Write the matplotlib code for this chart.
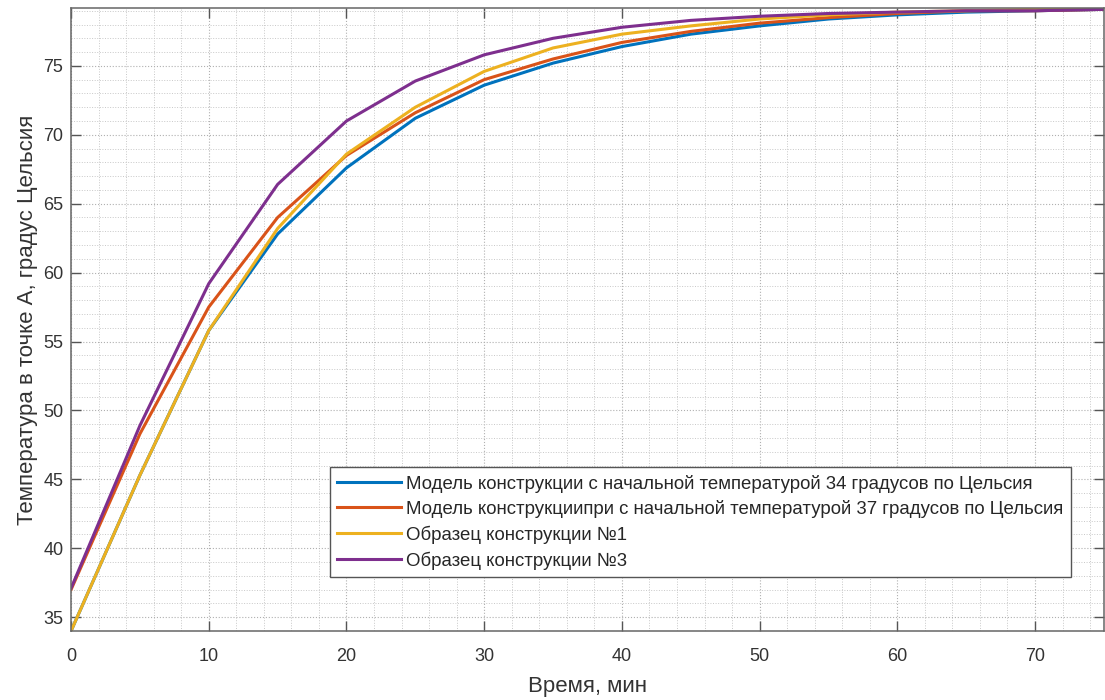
import matplotlib.pyplot as plt
from matplotlib.ticker import MultipleLocator

plt.rcParams['font.family'] = ['Liberation Sans', 'DejaVu Sans']

time_min = [0, 5, 10, 15, 20, 25, 30, 35, 40, 45, 50, 55, 60, 65, 70, 75]

model_34 = [34.0, 45.3, 55.8, 62.8, 67.6, 71.2, 73.6, 75.2, 76.4, 77.3, 77.9, 78.4, 78.7, 78.9, 79.0, 79.1]
model_37 = [37.0, 48.3, 57.5, 64.0, 68.5, 71.6, 74.0, 75.5, 76.7, 77.5, 78.1, 78.5, 78.8, 79.0, 79.0, 79.1]
sample_1 = [34.0, 45.3, 55.8, 63.2, 68.6, 72.0, 74.6, 76.3, 77.3, 77.9, 78.4, 78.7, 78.9, 79.0, 79.1, 79.2]
sample_3 = [37.1, 48.9, 59.2, 66.4, 71.0, 73.9, 75.8, 77.0, 77.8, 78.3, 78.6, 78.8, 78.9, 79.0, 79.0, 79.1]

labels = [
    "Модель конструкции с начальной температурой 34 градусов по Цельсия",
    "Модель конструкциипри с начальной температурой 37 градусов по Цельсия",
    "Образец конструкции №1",
    "Образец конструкции №3",
]
colors = ["#0072BD", "#D95319", "#EDB120", "#7E2F8E"]

fig = plt.figure(figsize=(11.05, 7.0), dpi=100)
ax = fig.add_axes([0.0643, 0.0986, 0.9347, 0.89])

for y, lab, c in zip([model_34, model_37, sample_1, sample_3], labels, colors):
    ax.plot(time_min, y, color=c, linewidth=2.2, label=lab)

ax.set_xlim(0, 75)
ax.set_ylim(34, 79.2)
ax.xaxis.set_major_locator(MultipleLocator(10))
ax.xaxis.set_minor_locator(MultipleLocator(2))
ax.yaxis.set_major_locator(MultipleLocator(5))
ax.yaxis.set_minor_locator(MultipleLocator(1))

ax.grid(which='major', linestyle=':', color='#b0b0b0', linewidth=0.8)
ax.grid(which='minor', linestyle=':', color='#c8c8c8', linewidth=0.7)
ax.tick_params(which='both', direction='in', top=True, right=True,
               colors='#555555', labelcolor='#333333', labelsize=13)
ax.tick_params(which='major', length=7, width=1)
ax.tick_params(which='minor', length=0)
ax.tick_params(axis='x', which='major', pad=12)
ax.tick_params(axis='y', which='major', pad=5.5)
for s in ax.spines.values():
    s.set_color('#666666')
    s.set_linewidth(1.1)

ax.set_xlabel("Время, мин", fontsize=16, color='#333333', labelpad=8.5)
ax.set_ylabel("Температура в точке А, градус Цельсия", fontsize=16, color='#333333', labelpad=4)

leg = ax.legend(loc='lower left', bbox_to_anchor=(0.2507, 0.0867), borderaxespad=0,
                fontsize=13.4, handlelength=3.4, handletextpad=0.3, fancybox=False,
                framealpha=1, edgecolor='#555555', borderpad=0.4, labelspacing=0.4)
leg.get_frame().set_linewidth(1.0)
for t in leg.get_texts():
    t.set_color('#262626')

fig.savefig("out.png", dpi=100)
